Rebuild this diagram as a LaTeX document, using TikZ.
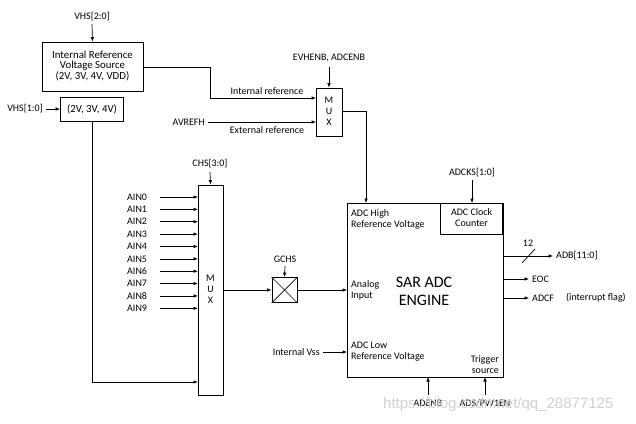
\documentclass[tikz,border=0pt]{standalone}
\usepackage{fontspec}
\setmainfont{Carlito}
\newfontfamily\wmfont{Liberation Sans}
\usetikzlibrary{arrows.meta}
\begin{document}
\begin{tikzpicture}[x=1pt,y=-1pt,
  font=\fontsize{10}{12}\selectfont,
  box/.style={draw,line width=0.8pt,inner sep=0pt,align=center},
  lbl/.style={inner sep=0pt},
  wire/.style={line width=0.7pt},
  arr/.style={line width=0.7pt,-{Latex[length=4.5pt,width=3.6pt]}}]
\useasboundingbox (0,0) rectangle (636,423);

% internal reference source
\node[lbl] (vhs2) at (92,17) {VHS[2:0]};
\node[box,minimum width=101pt,minimum height=49pt,font=\fontsize{10.8}{12}\selectfont] (irs) at (92.5,66.5)
  {\begin{tabular}{@{}c@{}}Internal Reference\\[-1.5pt]Voltage Source\\[-1.5pt](2V, 3V, 4V, VDD)\end{tabular}};
\draw[arr] (vhs2.south |- 0,24) -- (irs.north);

\node[box,minimum width=63pt,minimum height=24pt,font=\fontsize{10.8}{12}\selectfont] (sv) at (92,109) {(2V, 3V, 4V)};
\node[lbl] (vhs1) at (25,109) {VHS[1:0]};
\draw[arr] (vhs1.east) ++(3,0) coordinate (v1s) -- (sv.west);

% top mux
\node[box,minimum width=26pt,minimum height=48pt] (mux1) at (329,112)
  {\begin{tabular}{@{}c@{}}M\\[-1pt]U\\[-1pt]X\end{tabular}};
\node[lbl] (ev) at (329,58) {EVHENB, ADCENB};
\draw[arr] (329,67) -- (mux1.north);
\coordinate (inref) at (316,98);
\draw[arr] (irs.east |- 0,67) -| (210,98) -- (inref);
\node[lbl] at (267,91) {Internal reference};
\node[lbl,anchor=east] (avrefh) at (205,122) {AVREFH};
\draw[arr] (avrefh.east) ++(3,0) -- (316,122);
\node[lbl] at (267,130) {External reference};

% big mux
\node[box,minimum width=25pt,minimum height=210pt] (mux2) at (210.5,290)
  {\begin{tabular}{@{}c@{}}M\\[-1pt]U\\[-1pt]X\end{tabular}};
\node[lbl] (chs) at (210,164) {CHS[3:0]};
\draw[arr] (210,172) -- (mux2.north);
\foreach \i in {0,...,9}{
  \node[lbl,anchor=west] (ain\i) at (127,{197+12.37*\i}) {AIN\i};
  \draw[arr] (160,{197+12.37*\i}) -- (198,{197+12.37*\i});
}
\draw[arr] (sv.south) -- (92,382) -- (198,382);

% GCHS switch
\node[draw,line width=0.8pt,minimum width=25pt,minimum height=25pt,inner sep=0pt] (sw) at (284.5,290) {};
\draw[wire] (sw.north west) -- (sw.south east);
\draw[wire] (sw.north east) -- (sw.south west);
\node[lbl] (gchs) at (285,259) {GCHS};
\draw[arr] (285,266) -- (sw.north);
\draw[arr] (mux2.east |- 0,290) -- (sw.west);

% ADC engine
\draw[line width=0.8pt] (347,203) rectangle (503,377);
\node[box,minimum width=62pt,minimum height=31pt,anchor=north east] (clk) at (503,203)
  {\begin{tabular}{@{}c@{}}ADC Clock\\[-1pt]Counter\end{tabular}};
\coordinate (adcl) at (347,290);
\draw[arr] (sw.east) -- (adcl);
\node[lbl] (adcks) at (472,173) {ADCKS[1:0]};
\draw[arr] (472,180) -- (472,203);
\draw[arr] (mux1.east |- 0,111) -| (366,203);

\node[lbl,anchor=west,align=left] at (351,219) {ADC High\\[-1pt]Reference Voltage};
\node[lbl,anchor=west,align=left] at (351,290) {Analog\\[-1pt]Input};
\node[lbl,align=center,font=\fontsize{16}{18}\selectfont] at (424,291) {SAR ADC\\ENGINE};
\node[lbl,anchor=west,align=left] at (351,352) {ADC Low\\[-1pt]Reference Voltage};
\node[lbl,anchor=east,align=right] at (499,365) {Trigger\\[-1pt]source};

\node[lbl,anchor=east] (ivss) at (320,352) {Internal Vss};
\draw[arr] (ivss.east) ++(3,0) -- (347,352);

\node[lbl] (adenb) at (428,403) {ADENB};
\node[lbl] (ads) at (485,403) {ADS/PW1EN};
\draw[arr] (428,395) -- (428,377);
\draw[arr] (485,395) -- (485,377);

% outputs
\node[lbl,anchor=west] (adb) at (556,256) {ADB[11:0]};
\draw[arr] (503,256) -- (553,256);
\draw[wire] (522,263) -- (535,249);
\node[lbl] at (528,243) {12};
\node[lbl,anchor=west] (eoc) at (532,279) {EOC};
\draw[arr] (503,279) -- (529,279);
\node[lbl,anchor=west] (adcf) at (532,298) {ADCF};
\draw[arr] (503,298) -- (529,298);
\node[lbl,anchor=west] at (566,298) {(interrupt flag)};

% watermark
\node[lbl,anchor=west,text=black!18,font=\wmfont\fontsize{15}{17}\selectfont] at (383,405) {https://blog.csdn.net/qq\_28877125};
\end{tikzpicture}
\end{document}
